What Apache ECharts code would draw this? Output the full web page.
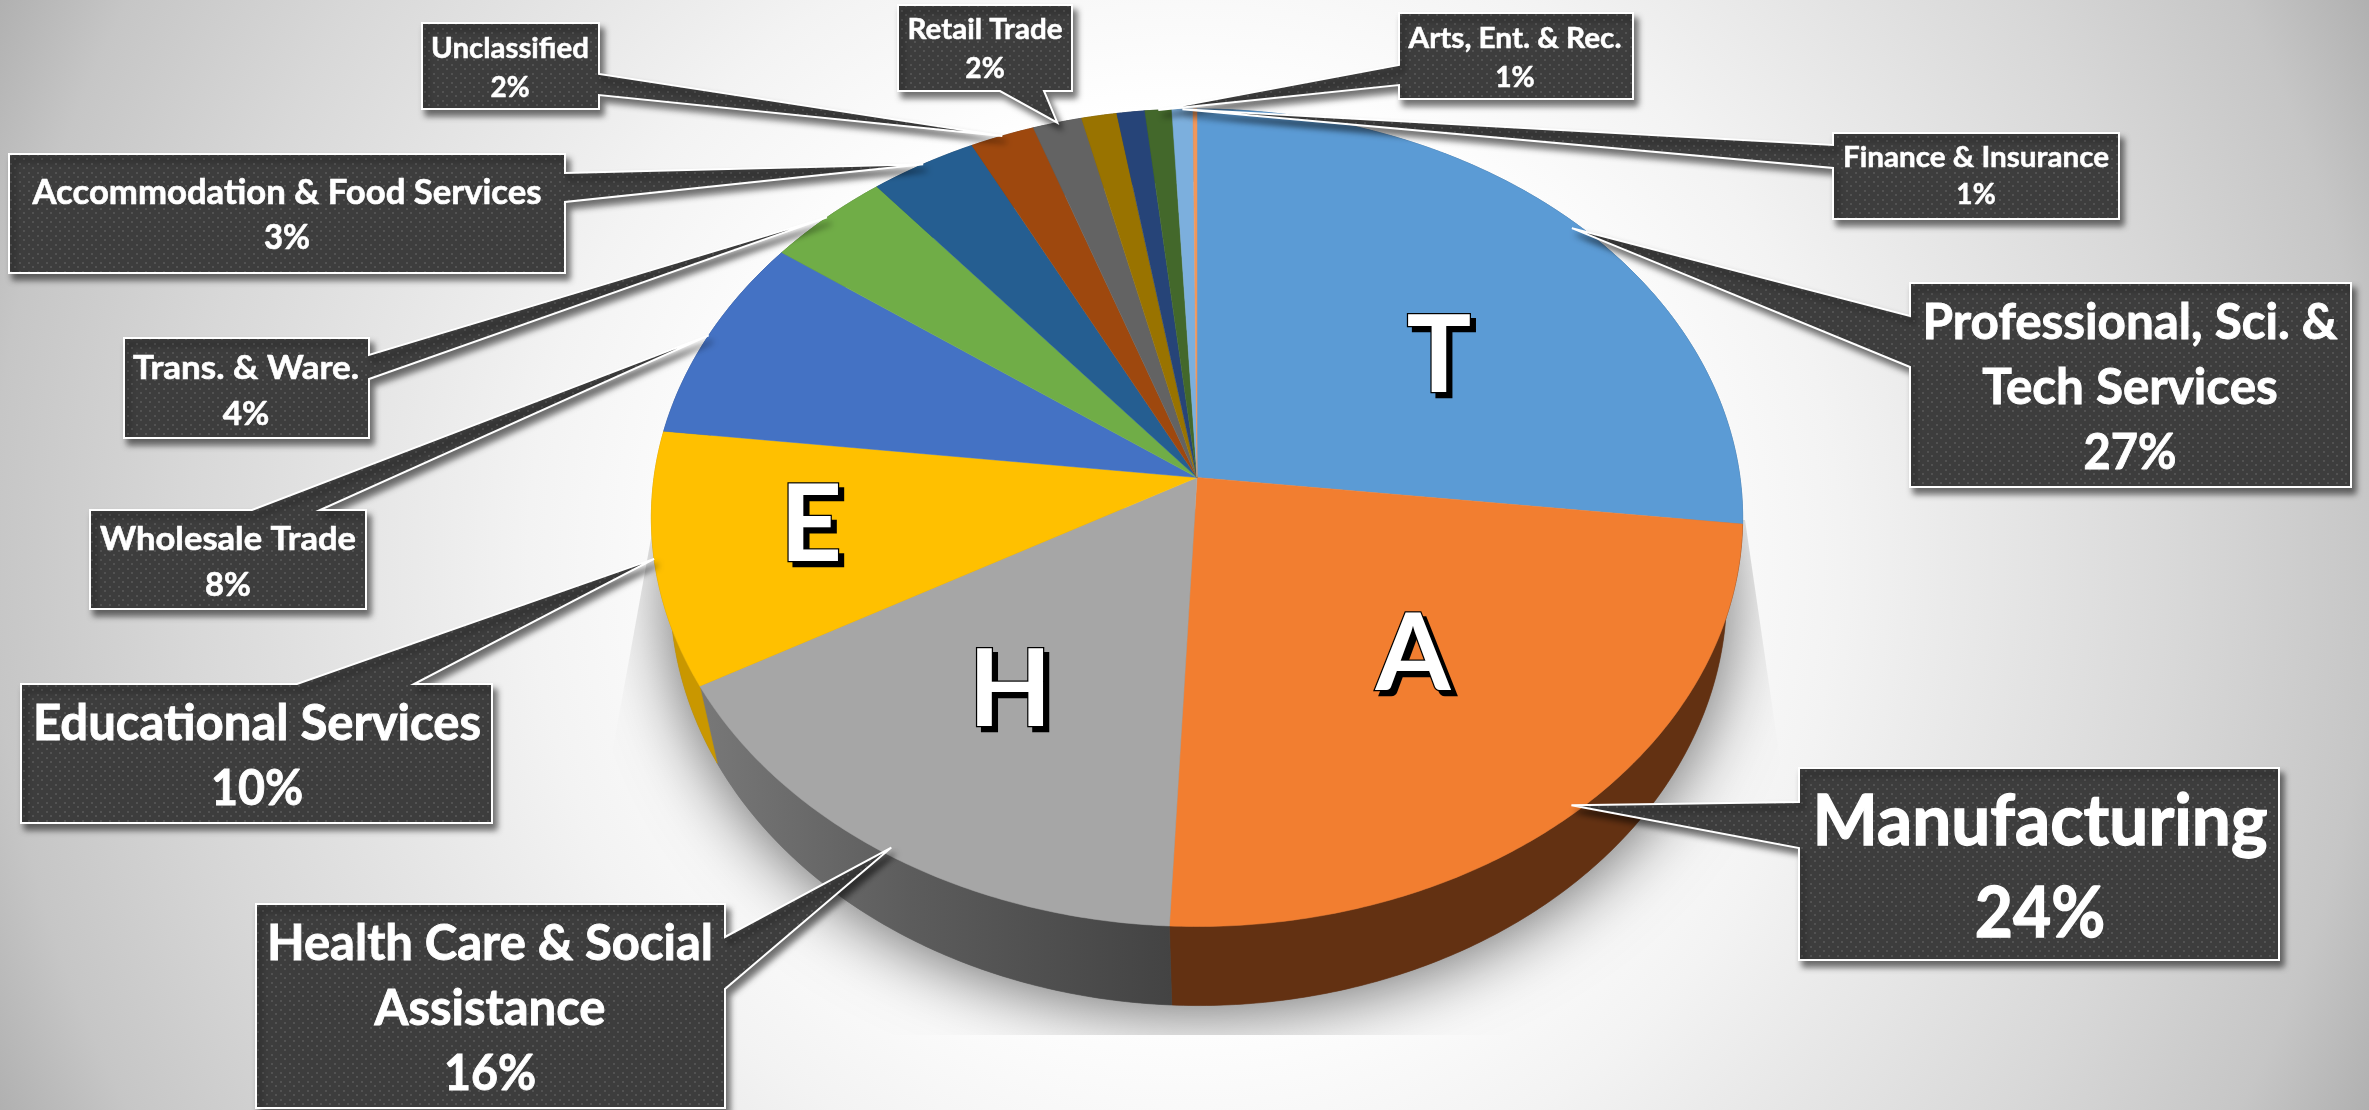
<!DOCTYPE html>
<html><head><meta charset="utf-8">
<style>html,body{margin:0;padding:0;background:#fff}#c{width:2369px;height:1110px}</style>
<script src="https://cdn.jsdelivr.net/npm/echarts@6/dist/echarts.min.js"></script>
</head><body><div id="c"></div>
<script>
// ---- data ----
var sliceNames = ['Professional, Sci. & Tech Services','Manufacturing','Health Care & Social Assistance','Educational Services','Wholesale Trade','Trans. & Ware.','Accommodation & Food Services','Unclassified','Retail Trade','Other A','Other B','Arts, Ent. & Rec.','Finance & Insurance','Other C'];
var sliceValues = [26.8,23.9,16.1,10.0,8.15,4.06,3.49,2.1,1.6,1.15,0.91,0.87,0.68,0.13];
var sliceColors = ['#5B9BD5','#F27E30','#A6A6A6','#FFC000','#4472C4','#70AD47','#255E91','#9E480E','#636363','#997300','#264478','#43682B','#7CAFDD','#F1975A'];
var wallColors  = ['#3A6A96','#633112',null,'#C99700','#2F4F8A','#4E7A32','#1A4266','#6E320A','#454545','#6B5000','#1A2F54','#2F481E','#5A8AB5','#A9693F'];
var letterNames = ['T','A','H','E'];
var calloutSlices = [0,1,2,3,4,5,6,7,8,11,12];
var calloutLines = [['Professional, Sci. &','Tech Services'],['Manufacturing'],['Health Care & Social','Assistance'],['Educational Services'],['Wholesale Trade'],['Trans. & Ware.'],['Accommodation & Food Services'],['Unclassified'],['Retail Trade'],['Arts, Ent. & Rec.'],['Finance & Insurance']];

// ---- layout (not data) ----
var W=2369,H=1110;
var PIE={cx:1197,cy:477.5,A:404.8,B:543,k:0.0985};
var calloutBoxes = [
 {b:[1910,283,2351,487],side:'l',p:[316,367],fs:50,step:65,y0:323,cxT:2130,tw:415,tipR:0.985},
 {b:[1799,768,2279,960],side:'l',p:[802,848],fs:70,step:92,y0:822,cxT:2040,tw:455,tipR:0.985},
 {b:[256,904,725,1108],side:'r',p:[937,989],fs:50,step:65,y0:944,cxT:490,tw:446,tipR:0.985},
 {b:[21,684,492,823],side:'t',p:[297,414],fs:49,step:65,y0:724,cxT:257,tw:448,tipR:1},
 {b:[90,510,366,609],side:'t',p:[252,320],fs:33,step:46,y0:539,cxT:228,tw:256,tipR:1},
 {b:[124,338,369,438],side:'r',p:[355,379],fs:33,step:46,y0:368,cxT:246,tw:226,tipR:1},
 {b:[9,154,565,273],side:'r',p:[173,202],fs:35,step:45,y0:193,cxT:287,tw:509,tipR:1},
 {b:[422,23,599,109],side:'r',p:[74,95],fs:29,step:39,y0:49,cxT:510,tw:158,tipR:1},
 {b:[898,5,1072,91],side:'b',p:[1000,1044],fs:29,step:39,y0:30,cxT:985,tw:155,tipR:1},
 {b:[1399,13,1633,99],side:'l',p:[65,85],fs:29,step:39,y0:39,cxT:1515,tw:213,tipR:1},
 {b:[1833,133,2119,219],side:'l',p:[145,168],fs:29,step:37,y0:158,cxT:1976,tw:266,tipR:1}
];
var letterPos = [[1439,357],[1413,655],[1010,691],[811,526]];

function project(phi,r){var s=Math.sin(phi),c=Math.cos(phi),d=1+PIE.k*c*r;
  return [PIE.cx+PIE.B*s*r/d, PIE.cy-PIE.A*c*r/d];}
function lower(p){return [PIE.cx+1.5+0.968*(p[0]-PIE.cx), 1.008*p[1]+71.6];}
var total=sliceValues.reduce(function(a,b){return a+b},0), cums=[], acc=0;
sliceValues.forEach(function(v){cums.push(acc);acc+=v;});
function ang(p){return p/total*Math.PI*2;}
function rim(a0,a1,f){var n=Math.max(2,Math.ceil((a1-a0)/0.01)),o=[];for(var i=0;i<=n;i++){var p=project(a0+(a1-a0)*i/n,1);o.push(f?f(p):p);}return o;}

var tile=document.createElement('canvas');tile.width=9;tile.height=9;
(function(){var g=tile.getContext('2d');g.fillStyle='#3D3D3D';g.fillRect(0,0,9,9);g.fillStyle='#525252';g.fillRect(1,1,2,2);g.fillRect(5,5,2,2);})();
var FONT='Lato, "Open Sans", sans-serif';
var mctx=document.createElement('canvas').getContext('2d');
function textWidth(t,fs){mctx.font='bold '+fs+'px Lato';return mctx.measureText(t).width;}

var bg=new echarts.graphic.RadialGradient(1184,555,1310,[
 {offset:0,color:'#ffffff'},{offset:0.34,color:'#ffffff'},{offset:0.5,color:'#f3f3f3'},
 {offset:0.76,color:'#d8d8d8'},{offset:0.91,color:'#c6c6c6'},{offset:1,color:'#b0b0b0'}],true);
var grayWall=new echarts.graphic.LinearGradient(700,0,1172,0,[
 {offset:0,color:'#787878'},{offset:0.45,color:'#5c5c5c'},{offset:1,color:'#434343'}],true);

function renderShadow(params,api){
  var pts=rim(0,Math.PI*2,lower);
  return {type:'polygon',shape:{points:pts},
    style:{fill:'#777',shadowBlur:70,shadowColor:'rgba(0,0,0,0.6)',shadowOffsetY:6},
    clipPath:{type:'polygon',shape:{points:[[658,500],[610,765],[610,1035],[1780,1035],[1780,760],[1745,520]]}}};
}
function renderWall(params,api){
  var i=params.dataIndex,a0=ang(cums[i]),a1=ang(cums[i]+api.value(0));
  var up=rim(a0,a1),lo=rim(a0,a1,lower).reverse();
  var col=wallColors[i]||grayWall;
  return {type:'polygon',shape:{points:up.concat(lo)},style:{fill:col,stroke:col,lineWidth:0.6}};
}
function renderTop(params,api){
  var i=params.dataIndex,a0=ang(cums[i]),a1=ang(cums[i]+api.value(0));
  var pts=[project(0,0)].concat(rim(a0,a1));
  return {type:'polygon',shape:{points:pts},style:{fill:sliceColors[i],stroke:sliceColors[i],lineWidth:0.5}};
}
function renderLetter(params,api){
  var p=letterPos[params.dataIndex],t=letterNames[params.dataIndex];
  var base={align:'center',verticalAlign:'middle',font:'bold 108px '+FONT,text:t};
  return {type:'group',children:[
    {type:'text',x:p[0]+5,y:p[1]+5,style:Object.assign({fill:'#000',stroke:'#000',lineWidth:2.5},base)},
    {type:'text',x:p[0],y:p[1],style:Object.assign({fill:'#fff',stroke:'#000',lineWidth:2.5},base)}
  ]};
}
function renderCallout(params,api){
  var n=params.dataIndex,L=calloutBoxes[n],si=calloutSlices[n],b=L.b;
  var mid=ang(cums[si]+sliceValues[si]/2),tip=project(mid,L.tipR);
  var x0=b[0],y0=b[1],x1=b[2],y1=b[3],p=L.p,pts=[[x0,y0]];
  if(L.side==='t')pts.push([p[0],y0],tip,[p[1],y0]);pts.push([x1,y0]);
  if(L.side==='r')pts.push([x1,p[0]],tip,[x1,p[1]]);pts.push([x1,y1]);
  if(L.side==='b')pts.push([p[1],y1],tip,[p[0],y1]);pts.push([x0,y1]);
  if(L.side==='l')pts.push([x0,p[1]],tip,[x0,p[0]]);
  var kids=[{type:'polygon',shape:{points:pts},style:{fill:{image:tile,repeat:'repeat'},stroke:'#fff',lineWidth:2,lineJoin:'miter',miterLimit:6,
    shadowBlur:6,shadowColor:'rgba(0,0,0,0.55)',shadowOffsetX:4,shadowOffsetY:6}}];
  var names=calloutLines[n],lines=names.concat([Math.round(api.value(0))+'%']);
  var sx=L.tw/textWidth(names[0],L.fs);
  lines.forEach(function(t,j){
    kids.push({type:'text',x:L.cxT,y:L.y0+j*L.step,scaleX:j<names.length?sx:sx*0.95,style:{text:t,fill:'#fff',stroke:'#fff',lineWidth:L.fs/55,font:'bold '+L.fs+'px '+FONT,align:'center',verticalAlign:'middle'}});
  });
  return {type:'group',children:kids};
}
var sliceData=sliceValues.map(function(v,i){return {name:sliceNames[i],value:[v]};});
var calloutData=calloutSlices.map(function(s){return {name:sliceNames[s],value:[sliceValues[s]]};});
var letterData=letterNames.map(function(l,i){return {name:l,value:[sliceValues[i]]};});
var common={type:'custom',coordinateSystem:'none',silent:true,animation:false,clip:false};
var chart=echarts.init(document.getElementById('c'),null,{renderer:'canvas',width:W,height:H});
chart.setOption({animation:false,tooltip:{show:false},
 graphic:[{type:'rect',silent:true,z:-10,shape:{x:0,y:0,width:W,height:H},style:{fill:bg}}],
 series:[
  Object.assign({},common,{name:'shadow',z:2,data:[{value:[1]}],renderItem:renderShadow}),
  Object.assign({},common,{name:'wall',z:3,data:sliceData,renderItem:renderWall}),
  Object.assign({},common,{name:'slices',z:4,data:sliceData,renderItem:renderTop}),
  Object.assign({},common,{name:'letters',z:5,data:letterData,renderItem:renderLetter}),
  Object.assign({},common,{name:'callouts',z:6,data:calloutData,renderItem:renderCallout})
 ]});
</script></body></html>
